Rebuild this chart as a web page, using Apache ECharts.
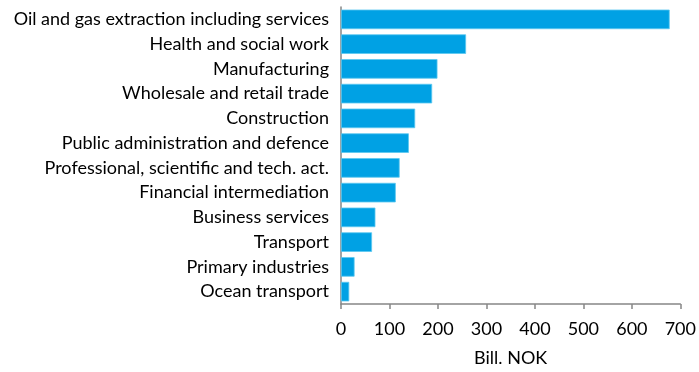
<!DOCTYPE html>
<html>
<head>
<meta charset="utf-8">
<script src="https://cdn.jsdelivr.net/npm/echarts@6/dist/echarts.min.js"></script>
<style>
  html, body { margin: 0; padding: 0; background: #ffffff; }
  #chart { width: 699px; height: 372px; }
</style>
</head>
<body>
<div id="chart"></div>
<script>
// Industries, listed top to bottom
const industries = [
  'Oil and gas extraction including services',
  'Health and social work',
  'Manufacturing',
  'Wholesale and retail trade',
  'Construction',
  'Public administration and defence',
  'Professional, scientific and tech. act.',
  'Financial intermediation',
  'Business services',
  'Transport',
  'Primary industries',
  'Ocean transport'
];

// Value per industry, Bill. NOK
const values = [678, 258, 199, 188, 153, 140, 121, 113, 71, 64, 28, 17];

const xTicks = [0, 100, 200, 300, 400, 500, 600, 700];

const chart = echarts.init(document.getElementById('chart'), null, { renderer: 'canvas' });

const font = 'Lato, "Open Sans", sans-serif';

chart.setOption({
  animation: false,
  backgroundColor: '#ffffff',
  grid: { left: 341, right: 18, top: 7, bottom: 60, containLabel: false },
  xAxis: {
    type: 'value',
    min: xTicks[0],
    max: xTicks[xTicks.length - 1],
    interval: 100,
    name: 'Bill. NOK',
    nameLocation: 'middle',
    nameGap: 45,
    nameTextStyle: { color: '#000000', fontSize: 18, fontFamily: font },
    axisLine: { show: true, lineStyle: { color: '#868686', width: 1.5 } },
    axisTick: { show: true, length: 5, lineStyle: { color: '#868686', width: 1.5 } },
    axisLabel: { color: '#000000', fontSize: 18, fontFamily: font, margin: 16 },
    splitLine: { show: false }
  },
  yAxis: {
    type: 'category',
    inverse: true,
    data: industries,
    axisLine: { show: true, lineStyle: { color: '#868686', width: 1.5 } },
    axisTick: { show: false },
    axisLabel: { color: '#000000', fontSize: 18, fontFamily: font, margin: 12 }
  },
  series: [{
    type: 'bar',
    data: values,
    barCategoryGap: '21%',
    itemStyle: { color: '#00a1e4', borderColor: '#5cc8f0', borderWidth: 0.8 }
  }]
});
</script>
</body>
</html>
